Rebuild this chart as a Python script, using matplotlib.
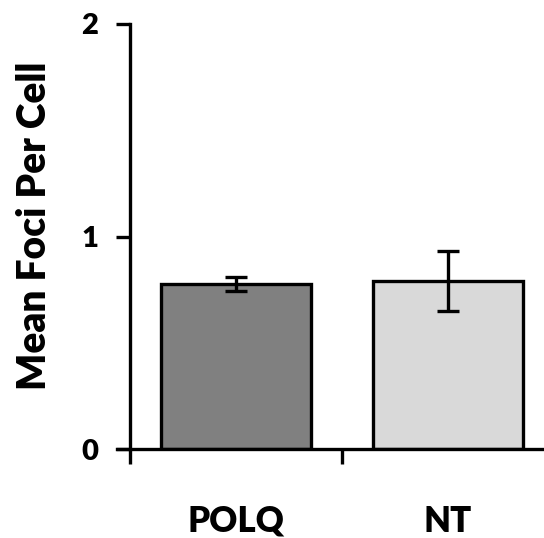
import matplotlib
matplotlib.use("Agg")
import matplotlib.pyplot as plt
import numpy as np

categories = ["POLQ", "NT"]
means = [0.776, 0.79]
errors = [0.033, 0.14]
colors = ["#808080", "#d9d9d9"]
y_ticks = [0, 1, 2]

plt.rcParams["font.family"] = ["Lato", "DejaVu Sans"]
plt.rcParams["font.weight"] = "heavy"

fig = plt.figure(figsize=(5.44, 5.38), dpi=100)
# x-axis spine sticks out left past the y-axis, Excel style
x_left = -0.062
ax = fig.add_axes([117 / 544, 89 / 538, (554 - 117) / 544, (449 - 24) / 538])

pos = np.arange(len(categories)) + 0.5
ax.bar(pos, means, width=0.71, color=colors, edgecolor="black", linewidth=2.4, zorder=2)
ax.errorbar(pos, means, yerr=errors, fmt="none", ecolor="black", elinewidth=2.4,
            capsize=8, capthick=2.4, zorder=3)

ax.set_xlim(x_left, 2)
ax.set_ylim(0, 2)
ax.spines["left"].set_position(("data", 0))
ax.spines["right"].set_visible(False)
ax.spines["top"].set_visible(False)
for s in ("left", "bottom"):
    ax.spines[s].set_linewidth(2.4)

ax.set_yticks(y_ticks)
ax.set_yticklabels([str(t) for t in y_ticks], fontsize=21, fontweight="heavy")
ax.tick_params(axis="y", direction="out", length=10, width=2.4, pad=13)

ax.set_xticks([0, 1, 2])
ax.set_xticklabels([])
ax.tick_params(axis="x", which="major", direction="out", length=11, width=2.4)
ax.set_xticks(pos, minor=True)
ax.set_xticklabels(categories, minor=True, fontsize=25, fontweight="heavy")
ax.tick_params(axis="x", which="minor", length=0, pad=40)

ax.set_ylabel("Mean Foci Per Cell", fontsize=28, fontweight="heavy")
ax.yaxis.set_label_coords(-0.147, 0.525)

fig.savefig("out.png", dpi=100)
